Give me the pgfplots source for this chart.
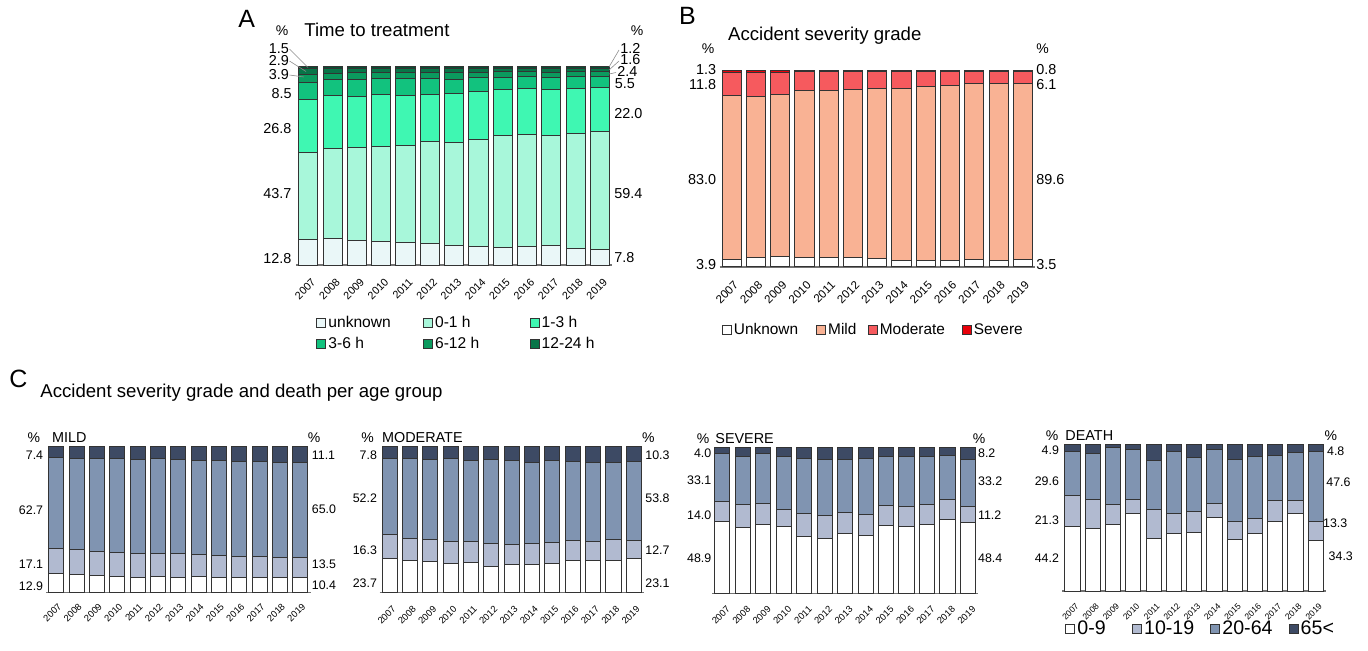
\documentclass[border=0pt]{standalone}
\usepackage{fontspec}
\setmainfont{Liberation Sans}
\usepackage{pgfplots}
\pgfplotsset{compat=1.18}
\usepackage{pgfplotstable}
\newcommand\fs[1]{\fontsize{#1}{#1}\selectfont}

\definecolor{aU}{HTML}{EAF7F8}
\definecolor{aA}{HTML}{A8F7DA}
\definecolor{aB}{HTML}{3FF7B2}
\definecolor{aC}{HTML}{12C27E}
\definecolor{aD}{HTML}{0B9A5E}
\definecolor{aE}{HTML}{087548}
\definecolor{aF}{HTML}{054F31}
\definecolor{bM}{HTML}{F9B294}
\definecolor{bMo}{HTML}{F65A5E}
\definecolor{bS}{HTML}{E8000A}
\definecolor{cB}{HTML}{B1BAD0}
\definecolor{cC}{HTML}{8094B1}
\definecolor{cD}{HTML}{3D4A64}

\pgfplotsset{
  mylegbox/.style={/pgfplots/legend image code/.code={\draw[##1] (0pt,-2.25pt) rectangle (4.5pt,2.25pt);}},
  bs/.style={fill=#1, draw=black!80, line width=0.5pt},
  sb/.style={
    ybar stacked, scale only axis, anchor=south west, clip=false,
    ymin=0, ymax=100, xmin=-0.5, xmax=12.5,
    axis y line=none, axis x line*=bottom,
    x axis line style={-, draw=black!55, line width=0.8pt},
    xtick={0,...,12},
    xticklabels={{2007},{2008},{2009},{2010},{2011},{2012},{2013},{2014},{2015},{2016},{2017},{2018},{2019}},
    major tick length=0pt,
    legend cell align=left,
    every axis plot post/.append style={mylegbox},
  },
  lg/.style={draw=none, fill=none, inner sep=0pt, column sep=0pt, font=\fs{#1}, nodes={inner sep=1pt, text depth=0.15em}},
}

\pgfplotstableread{
x u a b c d e f
0 12.8 43.7 26.8 8.5 3.9 2.9 1.4
1 13.2 45.3 26.6 8.0 3.3 2.4 1.2
2 12.4 46.6 25.8 8.5 3.2 2.3 1.2
3 11.9 47.7 26.2 7.7 3.1 2.2 1.2
4 11.1 48.9 25.3 8.2 3.1 2.2 1.2
5 10.6 51.4 23.8 7.7 3.1 2.2 1.2
6 9.7 51.9 24.7 7.0 3.2 2.3 1.2
7 9.2 53.9 24.2 6.7 2.8 2.0 1.2
8 8.9 56.4 23.0 6.0 2.7 1.9 1.1
9 9.2 56.6 23.0 5.8 2.5 1.8 1.1
10 9.7 55.6 23.0 6.0 2.6 1.9 1.2
11 8.4 57.8 22.6 6.0 2.4 1.6 1.2
12 7.8 59.4 22.0 5.5 2.4 1.6 1.3
}\tabA

\pgfplotstableread{
x u m mo s
0 3.9 83.0 11.8 1.3
1 4.7 81.9 12.1 1.3
2 5.1 82.5 11.2 1.2
3 4.6 85.1 9.3 1.0
4 4.6 85.2 9.2 1.0
5 4.6 85.6 8.8 1.0
6 4.2 86.3 8.5 1.0
7 3.2 87.5 8.3 1.0
8 3.1 88.3 7.7 0.9
9 3.4 88.8 6.9 0.9
10 3.9 89.0 6.3 0.8
11 3.1 90.1 6.0 0.8
12 3.5 89.6 6.1 0.8
}\tabB

\pgfplotstableread{
x a b c d
0 12.9 17.1 62.7 7.3
1 12.6 16.9 62.5 8.0
2 11.6 16.5 63.7 8.2
3 11.2 16.4 64.2 8.2
4 10.7 16.0 64.6 8.7
5 11.2 15.7 64.9 8.2
6 10.7 16.0 64.4 8.9
7 11.0 15.3 64.3 9.4
8 10.7 14.9 64.8 9.6
9 10.7 14.4 64.9 10.0
10 10.7 14.4 64.9 10.0
11 10.3 14.1 64.9 10.7
12 10.4 13.5 65.0 11.1
}\tabMild

\pgfplotstableread{
x a b c d
0 23.7 16.3 52.2 7.8
1 22.1 15.1 54.4 8.4
2 21.2 15.3 54.6 8.9
3 20.1 15.1 56.6 8.2
4 20.5 14.9 55.5 9.1
5 18.3 15.5 57.3 8.9
6 19.2 13.9 57.3 9.6
7 19.6 14.2 55.5 10.7
8 20.3 14.2 55.9 9.6
9 21.9 13.9 53.9 10.3
10 22.1 13.3 53.9 10.7
11 22.1 14.4 52.8 10.7
12 23.1 12.7 53.8 10.4
}\tabMod

\pgfplotstableread{
x a b c d
0 48.9 14.0 33.1 4.0
1 45.2 15.3 32.9 6.6
2 47.3 14.3 34.5 3.9
3 46.1 11.2 36.3 6.4
4 39.0 15.8 37.7 7.5
5 37.7 15.7 38.2 8.4
6 41.1 14.4 36.1 8.4
7 39.5 14.8 37.9 7.8
8 46.6 13.4 33.8 6.2
9 45.9 13.7 34.0 6.4
10 47.0 13.7 32.7 6.6
11 50.7 13.5 29.9 5.9
12 48.4 11.2 32.2 8.2
}\tabSev

\pgfplotstableread{
x a b c d
0 44.2 21.3 29.6 4.9
1 42.4 20.2 31.7 5.7
2 45.6 13.4 38.9 2.1
3 53.3 9.3 34.2 3.2
4 35.8 19.6 34.1 10.5
5 39.2 13.9 42.1 4.8
6 40.3 13.9 37.4 8.4
7 50.3 9.6 37.1 3.0
8 34.9 12.5 42.8 9.8
9 39.2 10.5 42.3 8.0
10 47.2 14.5 31.2 7.1
11 52.8 9.2 32.8 5.2
12 34.3 13.3 47.6 4.8
}\tabDeath

\begin{document}
\begin{tikzpicture}
\useasboundingbox (0,0) rectangle (684pt,-325pt);

% ---------------- Panel A
\begin{axis}[sb, at={(148.08pt,-132.5pt)}, width=158pt, height=99.5pt, bar width=9.6pt,
  xticklabel style={xshift=1.3pt,yshift=-6.15pt,rotate=45,anchor=north east,inner sep=0pt,font=\fs{5.4}},
  legend columns=3,
  legend style={lg=7.8, at={(axis description cs:0.0628,-0.245)}, anchor=north west, row sep=1.3pt},
]
\addplot[bs=aU] table[x=x,y=u]{\tabA}; \addlegendentry{\makebox[46.35pt][l]{unknown}}
\addplot[bs=aA] table[x=x,y=a]{\tabA}; \addlegendentry{\makebox[46.3pt][l]{0-1 h}}
\addplot[bs=aB] table[x=x,y=b]{\tabA}; \addlegendentry{1-3 h}
\addplot[bs=aC] table[x=x,y=c]{\tabA}; \addlegendentry{\makebox[46.35pt][l]{3-6 h}}
\addplot[bs=aD] table[x=x,y=d]{\tabA}; \addlegendentry{\makebox[46.3pt][l]{6-12 h}}
\addplot[bs=aE] table[x=x,y=e]{\tabA}; \addlegendentry{12-24 h}
\addplot[bs=aF, forget plot] table[x=x,y=f]{\tabA};
\end{axis}

% ---------------- Panel B
\begin{axis}[sb, at={(359.8pt,-133.35pt)}, width=157.7pt, height=98.35pt, bar width=9.6pt,
  xticklabel style={xshift=0.7pt,yshift=-6.6pt,rotate=45,anchor=north east,inner sep=0pt,font=\fs{5.8}},
  legend columns=4,
  legend style={lg=7.7, at={(axis description cs:0.006,-0.3229)}, anchor=west},
]
\addplot[bs=white] table[x=x,y=u]{\tabB}; \addlegendentry{\makebox[40.15pt][l]{Unknown}}
\addplot[bs=bM] table[x=x,y=m]{\tabB}; \addlegendentry{\makebox[18.85pt][l]{Mild}}
\addplot[bs=bMo] table[x=x,y=mo]{\tabB}; \addlegendentry{\makebox[40pt][l]{Moderate}}
\addplot[bs=bS] table[x=x,y=s]{\tabB}; \addlegendentry{Severe}
\end{axis}

% ---------------- Panel C: MILD
\begin{axis}[sb, at={(23.1pt,-296.35pt)}, width=132.15pt, height=73pt, bar width=7.6pt,
  x axis line style={-, draw=black!55, line width=0.75pt},
  xticklabel style={xshift=0.5pt,yshift=-4.8pt,rotate=45,anchor=north east,inner sep=0pt,font=\fs{4.7}},
]
\addplot[bs=white] table[x=x,y=a]{\tabMild};
\addplot[bs=cB] table[x=x,y=b]{\tabMild};
\addplot[bs=cC] table[x=x,y=c]{\tabMild};
\addplot[bs=cD] table[x=x,y=d]{\tabMild};
\end{axis}

% ---------------- MODERATE
\begin{axis}[sb, at={(189.75pt,-296.35pt)}, width=132.2pt, height=73pt, bar width=7.6pt,
  x axis line style={-, draw=black!55, line width=0.75pt},
  xticklabel style={xshift=1pt,yshift=-6pt,rotate=45,anchor=north east,inner sep=0pt,font=\fs{4.7}},
]
\addplot[bs=white] table[x=x,y=a]{\tabMod};
\addplot[bs=cB] table[x=x,y=b]{\tabMod};
\addplot[bs=cC] table[x=x,y=c]{\tabMod};
\addplot[bs=cD] table[x=x,y=d]{\tabMod};
\end{axis}

% ---------------- SEVERE
\begin{axis}[sb, at={(356.05pt,-296.65pt)}, width=133.05pt, height=73pt, bar width=7.6pt,
  x axis line style={-, draw=black!55, line width=0.75pt},
  xticklabel style={xshift=1.8pt,yshift=-5.8pt,rotate=45,anchor=north east,inner sep=0pt,font=\fs{4.7}},
]
\addplot[bs=white] table[x=x,y=a]{\tabSev};
\addplot[bs=cB] table[x=x,y=b]{\tabSev};
\addplot[bs=cC] table[x=x,y=c]{\tabSev};
\addplot[bs=cD] table[x=x,y=d]{\tabSev};
\end{axis}

% ---------------- DEATH
\begin{axis}[sb, at={(531.2pt,-295.5pt)}, width=131.75pt, height=73.15pt, bar width=7.6pt,
  x axis line style={-, draw=black!55, line width=0.75pt},
  xticklabel style={xshift=1.25pt,yshift=-5.7pt,rotate=45,anchor=north east,inner sep=0pt,font=\fs{4.3}},
  legend columns=4,
  legend style={lg=9.8, at={(axis description cs:0.0099,-0.26)}, anchor=west},
]
\addplot[bs=white] table[x=x,y=a]{\tabDeath}; \addlegendentry{\makebox[26.35pt][l]{0-9}}
\addplot[bs=cB] table[x=x,y=b]{\tabDeath}; \addlegendentry{\makebox[32.15pt][l]{10-19}}
\addplot[bs=cC] table[x=x,y=c]{\tabDeath}; \addlegendentry{\makebox[32.15pt][l]{20-64}}
\addplot[bs=cD] table[x=x,y=d]{\tabDeath}; \addlegendentry{65<}
\end{axis}

% ---------------- Annotations (pixel coordinates of the reference)
\begin{scope}[x=0.5pt,y=-0.5pt]
\tikzset{L/.style={anchor=east,inner sep=0pt,font=\fs{7.2}}, R/.style={anchor=west,inner sep=0pt,font=\fs{7.2}},
  cl/.style={anchor=east,inner sep=0pt,font=\fs{6.2}}, cr/.style={anchor=west,inner sep=0pt,font=\fs{6.2}},
  pc/.style={inner sep=0pt,font=\fs{7}}, nm/.style={anchor=west,inner sep=0pt,font=\fs{7.2}}}
% A
\node[font=\fs{12.5},inner sep=0pt] at (246.7,19.2) {A};
\node[pc] at (282,30.5) {\%};
\node[font=\fs{9.3},anchor=base west,inner sep=0pt] at (304,36) {Time to treatment};
\node[pc] at (637,30.5) {\%};
\node[L] at (289.3,48.3) {1.5};
\node[L] at (289.3,61) {2.9};
\node[L] at (289.3,75) {3.9};
\node[L] at (292,94) {8.5};
\node[L] at (291.7,129) {26.8};
\node[L] at (291.7,193.7) {43.7};
\node[L] at (291.7,258.3) {12.8};
\node[R] at (620,48.3) {1.2};
\node[R] at (620,59.5) {1.6};
\node[R] at (617,71.7) {2.4};
\node[R] at (614.5,83.3) {5.5};
\node[R] at (614,113.7) {22.0};
\node[R] at (614,193.7) {59.4};
\node[R] at (614,257.8) {7.8};
\draw[black!45,line width=0.3pt] (289.5,49) -- (308,67.5) (289.5,61) -- (306,71.5) (289.5,75) -- (304,77);
\draw[black!45,line width=0.3pt] (619,50) -- (609,67) (619,61) -- (609,70) (616,72.5) -- (609,74);
% B
\node[font=\fs{12.5},inner sep=0pt] at (687.5,15.8) {B};
\node[font=\fs{9.3},anchor=base west,inner sep=0pt] at (727.7,40) {Accident severity grade};
\node[pc] at (708,48.3) {\%};
\node[pc] at (1042.5,48.3) {\%};
\node[L] at (716.5,70) {1.3};
\node[L] at (716.5,85) {11.8};
\node[L] at (716.5,180) {83.0};
\node[L] at (716.5,265) {3.9};
\node[R] at (1036,69.5) {0.8};
\node[R] at (1036,84.7) {6.1};
\node[R] at (1036,180) {89.6};
\node[R] at (1036,264.7) {3.5};
% C
\node[font=\fs{12.5},inner sep=0pt] at (18.3,379) {C};
\node[font=\fs{9.3},anchor=base west,inner sep=0pt] at (40,397.3) {Accident severity grade and death per age group};
% MILD
\node[pc] at (33.8,437.5) {\%};
\node[nm] at (51.7,437.3) {MILD};
\node[pc] at (314,437.5) {\%};
\node[cl] at (43.5,455.5) {7.4};
\node[cl] at (43.5,510.5) {62.7};
\node[cl] at (43.5,564.5) {17.1};
\node[cl] at (43.5,585.8) {12.9};
\node[cr] at (311.5,455.5) {11.1};
\node[cr] at (311.5,509.5) {65.0};
\node[cr] at (311.5,564.5) {13.5};
\node[cr] at (311.5,585) {10.4};
% MODERATE
\node[pc] at (367.5,437.5) {\%};
\node[nm] at (381.7,437.3) {MODERATE};
\node[pc] at (648.3,437.5) {\%};
\node[cl] at (377.3,455.5) {7.8};
\node[cl] at (377.3,498.3) {52.2};
\node[cl] at (377.3,550) {16.3};
\node[cl] at (377.3,583.3) {23.7};
\node[cr] at (645,455.5) {10.3};
\node[cr] at (645,498.3) {53.8};
\node[cr] at (645,550) {12.7};
\node[cr] at (645,583.3) {23.1};
% SEVERE
\node[pc] at (703,438.3) {\%};
\node[nm] at (715,438.3) {SEVERE};
\node[pc] at (979.2,438.3) {\%};
\node[cl] at (711.7,453) {4.0};
\node[cl] at (711.7,480) {33.1};
\node[cl] at (711.7,515) {14.0};
\node[cl] at (711.7,558.3) {48.9};
\node[cr] at (977.7,453) {8.2};
\node[cr] at (977.7,480.8) {33.2};
\node[cr] at (977.7,515) {11.2};
\node[cr] at (977.7,558.3) {48.4};
% DEATH
\node[pc] at (1052,435.3) {\%};
\node[nm] at (1065,435.3) {DEATH};
\node[pc] at (1330.8,435.3) {\%};
\node[cl] at (1059.3,450) {4.9};
\node[cl] at (1059.3,480.8) {29.6};
\node[cl] at (1059.3,520) {21.3};
\node[cl] at (1059.3,558.2) {44.2};
\node[cr] at (1326.7,450.8) {4.8};
\node[cr] at (1326,481.8) {47.6};
\node[cr] at (1322.7,523.5) {13.3};
\node[cr] at (1328.3,556.7) {34.3};
\end{scope}
\end{tikzpicture}
\end{document}
